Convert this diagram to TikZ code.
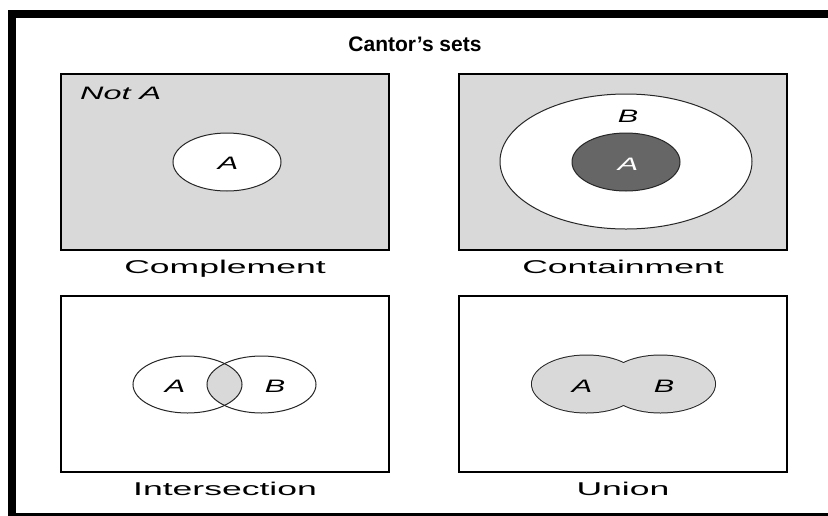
\documentclass[tikz,border=0pt]{standalone}
\usepackage{fontspec}
\setmainfont{Liberation Sans}
\usepackage{graphicx}
\usetikzlibrary{shapes.geometric}
\definecolor{panelgray}{HTML}{D9D9D9}
\definecolor{darkset}{HTML}{666666}
\tikzset{
  panel/.style={draw=black, line width=1.3pt},
  setline/.style={draw=black!85, line width=1.0pt},
  caption/.style={inner sep=0pt, anchor=base, font=\fontsize{18.5}{20}\selectfont},
  setlab/.style={inner sep=0pt, font=\fontsize{18}{20}\selectfont\itshape},
}
\newcommand{\wide}[1]{\scalebox{1.92}[1]{#1}}
\begin{document}
\begin{tikzpicture}[x=1pt,y=-1pt]
\clip (0,0) rectangle (828,515);
\fill[white] (0,0) rectangle (828,515);
% outer frame (cropped at right and bottom)
\draw[line width=8pt] (12,14) rectangle (840,517);
% title
\node[inner sep=0pt, anchor=base, font=\fontsize{21}{23}\selectfont\bfseries] (title) at (415,51) {Cantor’s sets};

% ---------- Complement ----------
\node[panel, fill=panelgray, rectangle, minimum width=328pt, minimum height=176pt, inner sep=0pt] (p1) at (225,162) {};
\node[setline, fill=white, ellipse, minimum width=108pt, minimum height=58pt, inner sep=0pt] (c1a) at (227,162) {};
\node[setlab] (c1alab) at (228,163) {\scalebox{1.7}[1]{A}};
\node[setlab, anchor=base west] (notA) at (80,99) {\scalebox{1.8}[1]{Not A}};
\node[caption] (l1) at (225,273) {\wide{Complement}};

% ---------- Containment ----------
\node[panel, fill=panelgray, rectangle, minimum width=328pt, minimum height=176pt, inner sep=0pt] (p2) at (623,162) {};
\node[setline, fill=white, ellipse, minimum width=252pt, minimum height=135pt, inner sep=0pt] (c2b) at (626,161.5) {};
\node[setline, fill=darkset, ellipse, minimum width=108pt, minimum height=58pt, inner sep=0pt] (c2a) at (626,162) {};
\node[setlab, text=white] (c2alab) at (628,164) {\scalebox{1.7}[1]{A}};
\node[setlab] (c2blab) at (628,116) {\scalebox{1.7}[1]{B}};
\node[caption] (l2) at (623,273) {\wide{Containment}};

% ---------- Intersection ----------
\node[panel, fill=white, rectangle, minimum width=328pt, minimum height=176pt, inner sep=0pt] (p3) at (225,384) {};
\begin{scope}
  \clip (187.5,384.5) ellipse [x radius=54.5, y radius=28.5];
  \fill[panelgray] (261.5,384.5) ellipse [x radius=54.5, y radius=28.5];
\end{scope}
\node[setline, ellipse, minimum width=109pt, minimum height=57pt, inner sep=0pt] (c3a) at (187.5,384.5) {};
\node[setline, ellipse, minimum width=109pt, minimum height=57pt, inner sep=0pt] (c3b) at (261.5,384.5) {};
\node[setlab] (c3alab) at (175,386) {\scalebox{1.7}[1]{A}};
\node[setlab] (c3blab) at (275,386) {\scalebox{1.7}[1]{B}};
\node[caption] (l3) at (225,495) {\wide{Intersection}};

% ---------- Union ----------
\node[panel, fill=white, rectangle, minimum width=328pt, minimum height=176pt, inner sep=0pt] (p4) at (623,384) {};
\draw[draw=black!85, line width=2.0pt] (586.5,384) ellipse [x radius=54.5, y radius=28.5];
\draw[draw=black!85, line width=2.0pt] (660.5,384) ellipse [x radius=54.5, y radius=28.5];
\fill[panelgray] (586.5,384) ellipse [x radius=54.5, y radius=28.5];
\fill[panelgray] (660.5,384) ellipse [x radius=54.5, y radius=28.5];
\coordinate (c4a) at (586.5,384);
\coordinate (c4b) at (660.5,384);
\node[setlab] (c4alab) at (582,386) {\scalebox{1.7}[1]{A}};
\node[setlab] (c4blab) at (664,386) {\scalebox{1.7}[1]{B}};
\node[caption] (l4) at (623,495) {\wide{Union}};
\end{tikzpicture}
\end{document}
